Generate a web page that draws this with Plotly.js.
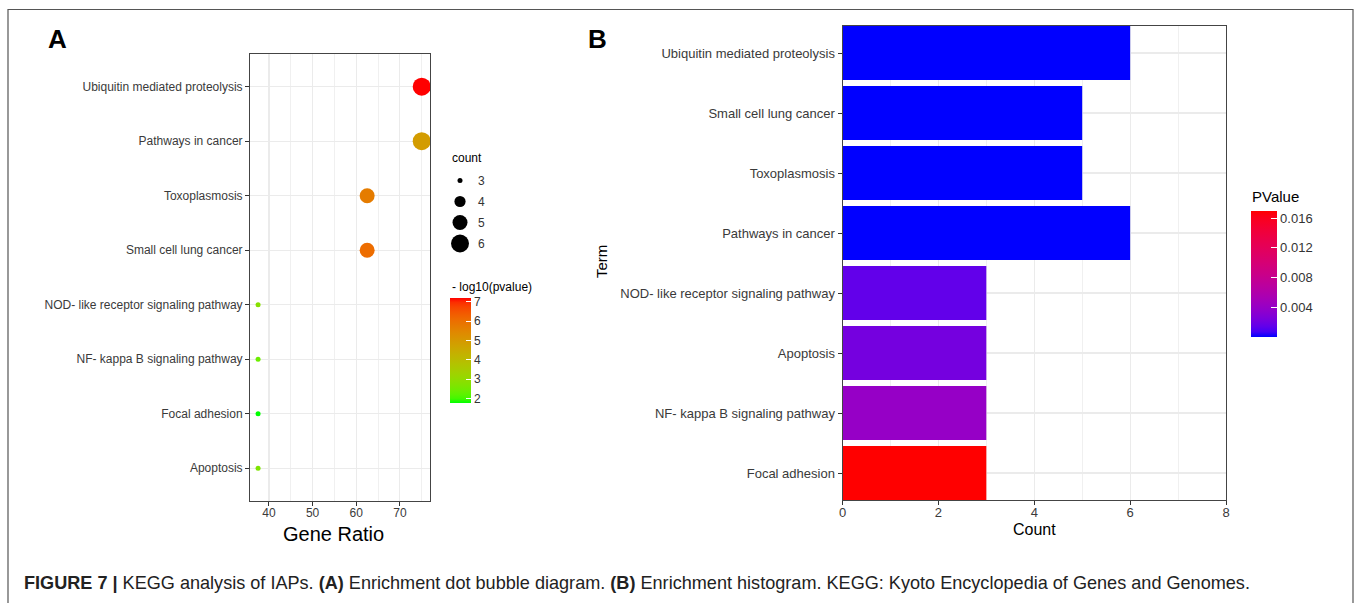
<!DOCTYPE html>
<html>
<head>
<meta charset="utf-8">
<script src="https://cdn.plot.ly/plotly-3.0.1.min.js"></script>
<style>html,body{margin:0;padding:0;background:#fff;}#chart{width:1356px;height:603px;}</style>
</head>
<body>
<div id="chart"></div>
<script>
// ---------- DATA ----------
// Panel A: enrichment dot bubble diagram (top to bottom)
const termsA = ['Ubiquitin mediated proteolysis','Pathways in cancer','Toxoplasmosis','Small cell lung cancer','NOD- like receptor signaling pathway','NF- kappa B signaling pathway','Focal adhesion','Apoptosis'];
const geneRatioA = [75, 75, 62.5, 62.5, 37.5, 37.5, 37.5, 37.5];
const countA = [6, 6, 5, 5, 3, 3, 3, 3];
const logPA = [7.2, 4.9, 5.7, 6.05, 2.82, 2.4, 1.77, 2.66];
const countLegend = [3, 4, 5, 6];
const logPTicks = [2, 3, 4, 5, 6, 7];
const xTicksA = [40, 50, 60, 70];

// Panel B: enrichment histogram (top to bottom)
const termsB = ['Ubiquitin mediated proteolysis','Small cell lung cancer','Toxoplasmosis','Pathways in cancer','NOD- like receptor signaling pathway','Apoptosis','NF- kappa B signaling pathway','Focal adhesion'];
const countB = [6, 5, 5, 6, 3, 3, 3, 3];
const pvalB = [6.3e-8, 8.9e-7, 2.0e-6, 1.26e-5, 0.0015, 0.0022, 0.004, 0.017];
const pTicks = [0.004, 0.008, 0.012, 0.016];
const xTicksB = [0, 2, 4, 6, 8];

// ---------- helpers ----------
const W = 1356, H = 603;
const px = x => x / W;
const py = y => 1 - y / H;

function s2l(c){c/=255;return c<=0.04045?c/12.92:Math.pow((c+0.055)/1.055,2.4);}
function l2s(c){c=c<=0.0031308?12.92*c:1.055*Math.pow(c,1/2.4)-0.055;return Math.round(Math.max(0,Math.min(1,c))*255);}
function hex2lab(h){
  const r=s2l(parseInt(h.slice(1,3),16)),g=s2l(parseInt(h.slice(3,5),16)),b=s2l(parseInt(h.slice(5,7),16));
  const X=(0.4124564*r+0.3575761*g+0.1804375*b)/0.95047;
  const Y=(0.2126729*r+0.7151522*g+0.0721750*b);
  const Z=(0.0193339*r+0.1191920*g+0.9503041*b)/1.08883;
  const f=t=>t>0.008856?Math.cbrt(t):7.787*t+16/116;
  const fx=f(X),fy=f(Y),fz=f(Z);
  return [116*fy-16,500*(fx-fy),200*(fy-fz)];
}
function lab2rgb(L,a,b){
  const fy=(L+16)/116,fx=fy+a/500,fz=fy-b/200;
  const fi=t=>{const t3=t*t*t;return t3>0.008856?t3:(t-16/116)/7.787;};
  const X=0.95047*fi(fx),Y=fi(fy),Z=1.08883*fi(fz);
  const R=3.2404542*X-1.5371385*Y-0.4985314*Z;
  const G=-0.9692660*X+1.8760108*Y+0.0415560*Z;
  const B=0.0556434*X-0.2040259*Y+1.0572252*Z;
  return 'rgb('+l2s(R)+','+l2s(G)+','+l2s(B)+')';
}
function labScale(c1,c2,n){
  const A=hex2lab(c1),B=hex2lab(c2),out=[];
  for(let i=0;i<=n;i++){const t=i/n;out.push([t,lab2rgb(A[0]+(B[0]-A[0])*t,A[1]+(B[1]-A[1])*t,A[2]+(B[2]-A[2])*t)]);}
  return out;
}
// area-proportional size scale (ggplot-like), diameter in px
const cMin = Math.min(...countA), cMax = Math.max(...countA);
const sizeFn = c => Math.sqrt(25 + 299 * (c - cMin) / (cMax - cMin));

const FONT = 'Liberation Sans, Arial, Helvetica, sans-serif';
const GRID = '#EBEBEB';
const TICKC = '#3A3A3A';

const revA = termsA.slice().reverse();
const revB = termsB.slice().reverse();

const traceA = {
  type: 'scatter', mode: 'markers', x: geneRatioA, y: termsA, xaxis: 'x', yaxis: 'y',
  marker: {
    size: countA.map(sizeFn), color: logPA, line: {width: 0}, opacity: 1,
    colorscale: labScale('#00FF00', '#FF0000', 24),
    cmin: Math.min(...logPA), cmax: Math.max(...logPA), showscale: true,
    colorbar: {
      x: px(450), xanchor: 'left', y: py(298), yanchor: 'top',
      lenmode: 'pixels', len: 105, thickness: 21, xpad: 0, ypad: 0,
      outlinewidth: 0, ticks: 'inside', ticklen: 5, tickcolor: 'white', tickwidth: 1,
      tickvals: logPTicks, tickfont: {size: 12, color: '#333', family: FONT}
    }
  },
  hoverinfo: 'x+y'
};

const traceLegend = {
  type: 'scatter', mode: 'markers', x: countLegend.map(() => 10), y: countLegend,
  xaxis: 'x3', yaxis: 'y3',
  marker: {size: countLegend.map(sizeFn), color: 'black', line: {width: 0}, opacity: 1},
  hoverinfo: 'skip'
};

const traceB = {
  type: 'bar', orientation: 'h', x: countB, y: termsB, xaxis: 'x2', yaxis: 'y2',
  width: 0.9,
  marker: {
    color: pvalB, line: {width: 0}, opacity: 1,
    colorscale: labScale('#0000FF', '#FF0000', 24),
    cmin: Math.min(...pvalB), cmax: Math.max(...pvalB), showscale: true,
    colorbar: {
      x: px(1251), xanchor: 'left', y: py(210.7), yanchor: 'top',
      lenmode: 'pixels', len: 126, thickness: 26, xpad: 0, ypad: 0,
      outlinewidth: 0, ticks: 'inside', ticklen: 6, tickcolor: 'white', tickwidth: 1,
      tickvals: pTicks, tickformat: '.3f', tickfont: {size: 13, color: '#333', family: FONT}
    }
  },
  hoverinfo: 'x+y'
};

const ann = (text, x, y, size, opts) => Object.assign({
  text, x: px(x), y: py(y), xref: 'paper', yref: 'paper', showarrow: false,
  font: {size, color: 'black', family: FONT}, xanchor: 'center', yanchor: 'middle'
}, opts || {});

const annotations = [
  ann('<b>A</b>', 57, 39, 26),
  ann('<b>B</b>', 597, 39, 26),
  ann('Gene Ratio', 333, 534, 20),
  ann('Count', 1034, 529, 16),
  ann('Term', 601, 262, 15, {textangle: -90}),
  ann('count', 450, 158, 12, {xanchor: 'left'}),
  ann('- log10(pvalue)', 450, 287, 12, {xanchor: 'left'}),
  ann('PValue', 1250, 196, 15, {xanchor: 'left'}),
  ann('<b>FIGURE 7 |</b> KEGG analysis of IAPs. <b>(A)</b> Enrichment dot bubble diagram. <b>(B)</b> Enrichment histogram. KEGG: Kyoto Encyclopedia of Genes and Genomes.', 22, 583, 18, {xanchor: 'left', font: {size: 18.1, color: '#222', family: FONT}})
];
countLegend.forEach(c => annotations.push({
  text: String(c), x: 26, y: c, xref: 'x3', yref: 'y3', showarrow: false,
  xanchor: 'left', yanchor: 'middle', font: {size: 12, color: '#333', family: FONT}
}));

const layout = {
  width: W, height: H, margin: {l: 0, r: 0, t: 0, b: 0},
  paper_bgcolor: 'white', plot_bgcolor: 'white', showlegend: false,
  font: {family: FONT},
  xaxis: {
    domain: [px(250), px(430)], anchor: 'y', range: [35.65, 76.9], autorange: false,
    tickvals: xTicksA, ticks: 'outside', ticklen: 4, tickcolor: '#333', ticklabelstandoff: -3,
    tickfont: {size: 12, color: TICKC}, showgrid: true, gridcolor: GRID, gridwidth: 1.2,
    minor: {dtick: 5, tick0: 0, showgrid: true, gridcolor: '#F0F0F0', gridwidth: 1},
    showline: true, mirror: true, linecolor: '#444', linewidth: 1, zeroline: false
  },
  yaxis: {
    domain: [py(501), py(54)], anchor: 'x', type: 'category',
    categoryorder: 'array', categoryarray: revA, range: [-0.6, 7.6], autorange: false,
    ticks: 'outside', ticklen: 4, tickcolor: '#333',
    tickfont: {size: 12, color: TICKC}, showgrid: true, gridcolor: GRID, gridwidth: 1.2,
    showline: true, mirror: true, linecolor: '#444', linewidth: 1, zeroline: false
  },
  xaxis2: {
    domain: [px(842.5), px(1226)], anchor: 'y2', range: [0, 8], autorange: false,
    tickvals: xTicksB, ticks: 'outside', ticklen: 4, tickcolor: '#333', ticklabelstandoff: -4,
    tickfont: {size: 13, color: TICKC}, showgrid: true, gridcolor: GRID, gridwidth: 1.2,
    minor: {dtick: 1, tick0: 0, showgrid: true, gridcolor: '#F0F0F0', gridwidth: 1},
    showline: true, mirror: true, linecolor: '#444', linewidth: 1, zeroline: false
  },
  yaxis2: {
    domain: [py(500), py(26)], anchor: 'x2', type: 'category',
    categoryorder: 'array', categoryarray: revB, range: [-0.45, 7.45], autorange: false,
    ticks: 'outside', ticklen: 4, tickcolor: '#333',
    tickfont: {size: 13, color: TICKC}, showgrid: true, gridcolor: GRID, gridwidth: 1.2,
    showline: true, mirror: true, linecolor: '#444', linewidth: 1, zeroline: false
  },
  xaxis3: {domain: [px(450), px(490)], anchor: 'y3', range: [0, 40], visible: false, fixedrange: true},
  yaxis3: {domain: [py(254), py(170)], anchor: 'x3', range: [6.5, 2.5], autorange: false, visible: false, fixedrange: true},
  shapes: [{
    type: 'rect', xref: 'paper', yref: 'paper',
    x0: px(8), x1: px(1353), y0: -0.1, y1: py(9.5),
    line: {color: '#555', width: 1.2}, fillcolor: 'rgba(0,0,0,0)'
  }],
  annotations
};

Plotly.newPlot('chart', [traceA, traceLegend, traceB], layout, {displayModeBar: false, staticPlot: true});
</script>
</body>
</html>
